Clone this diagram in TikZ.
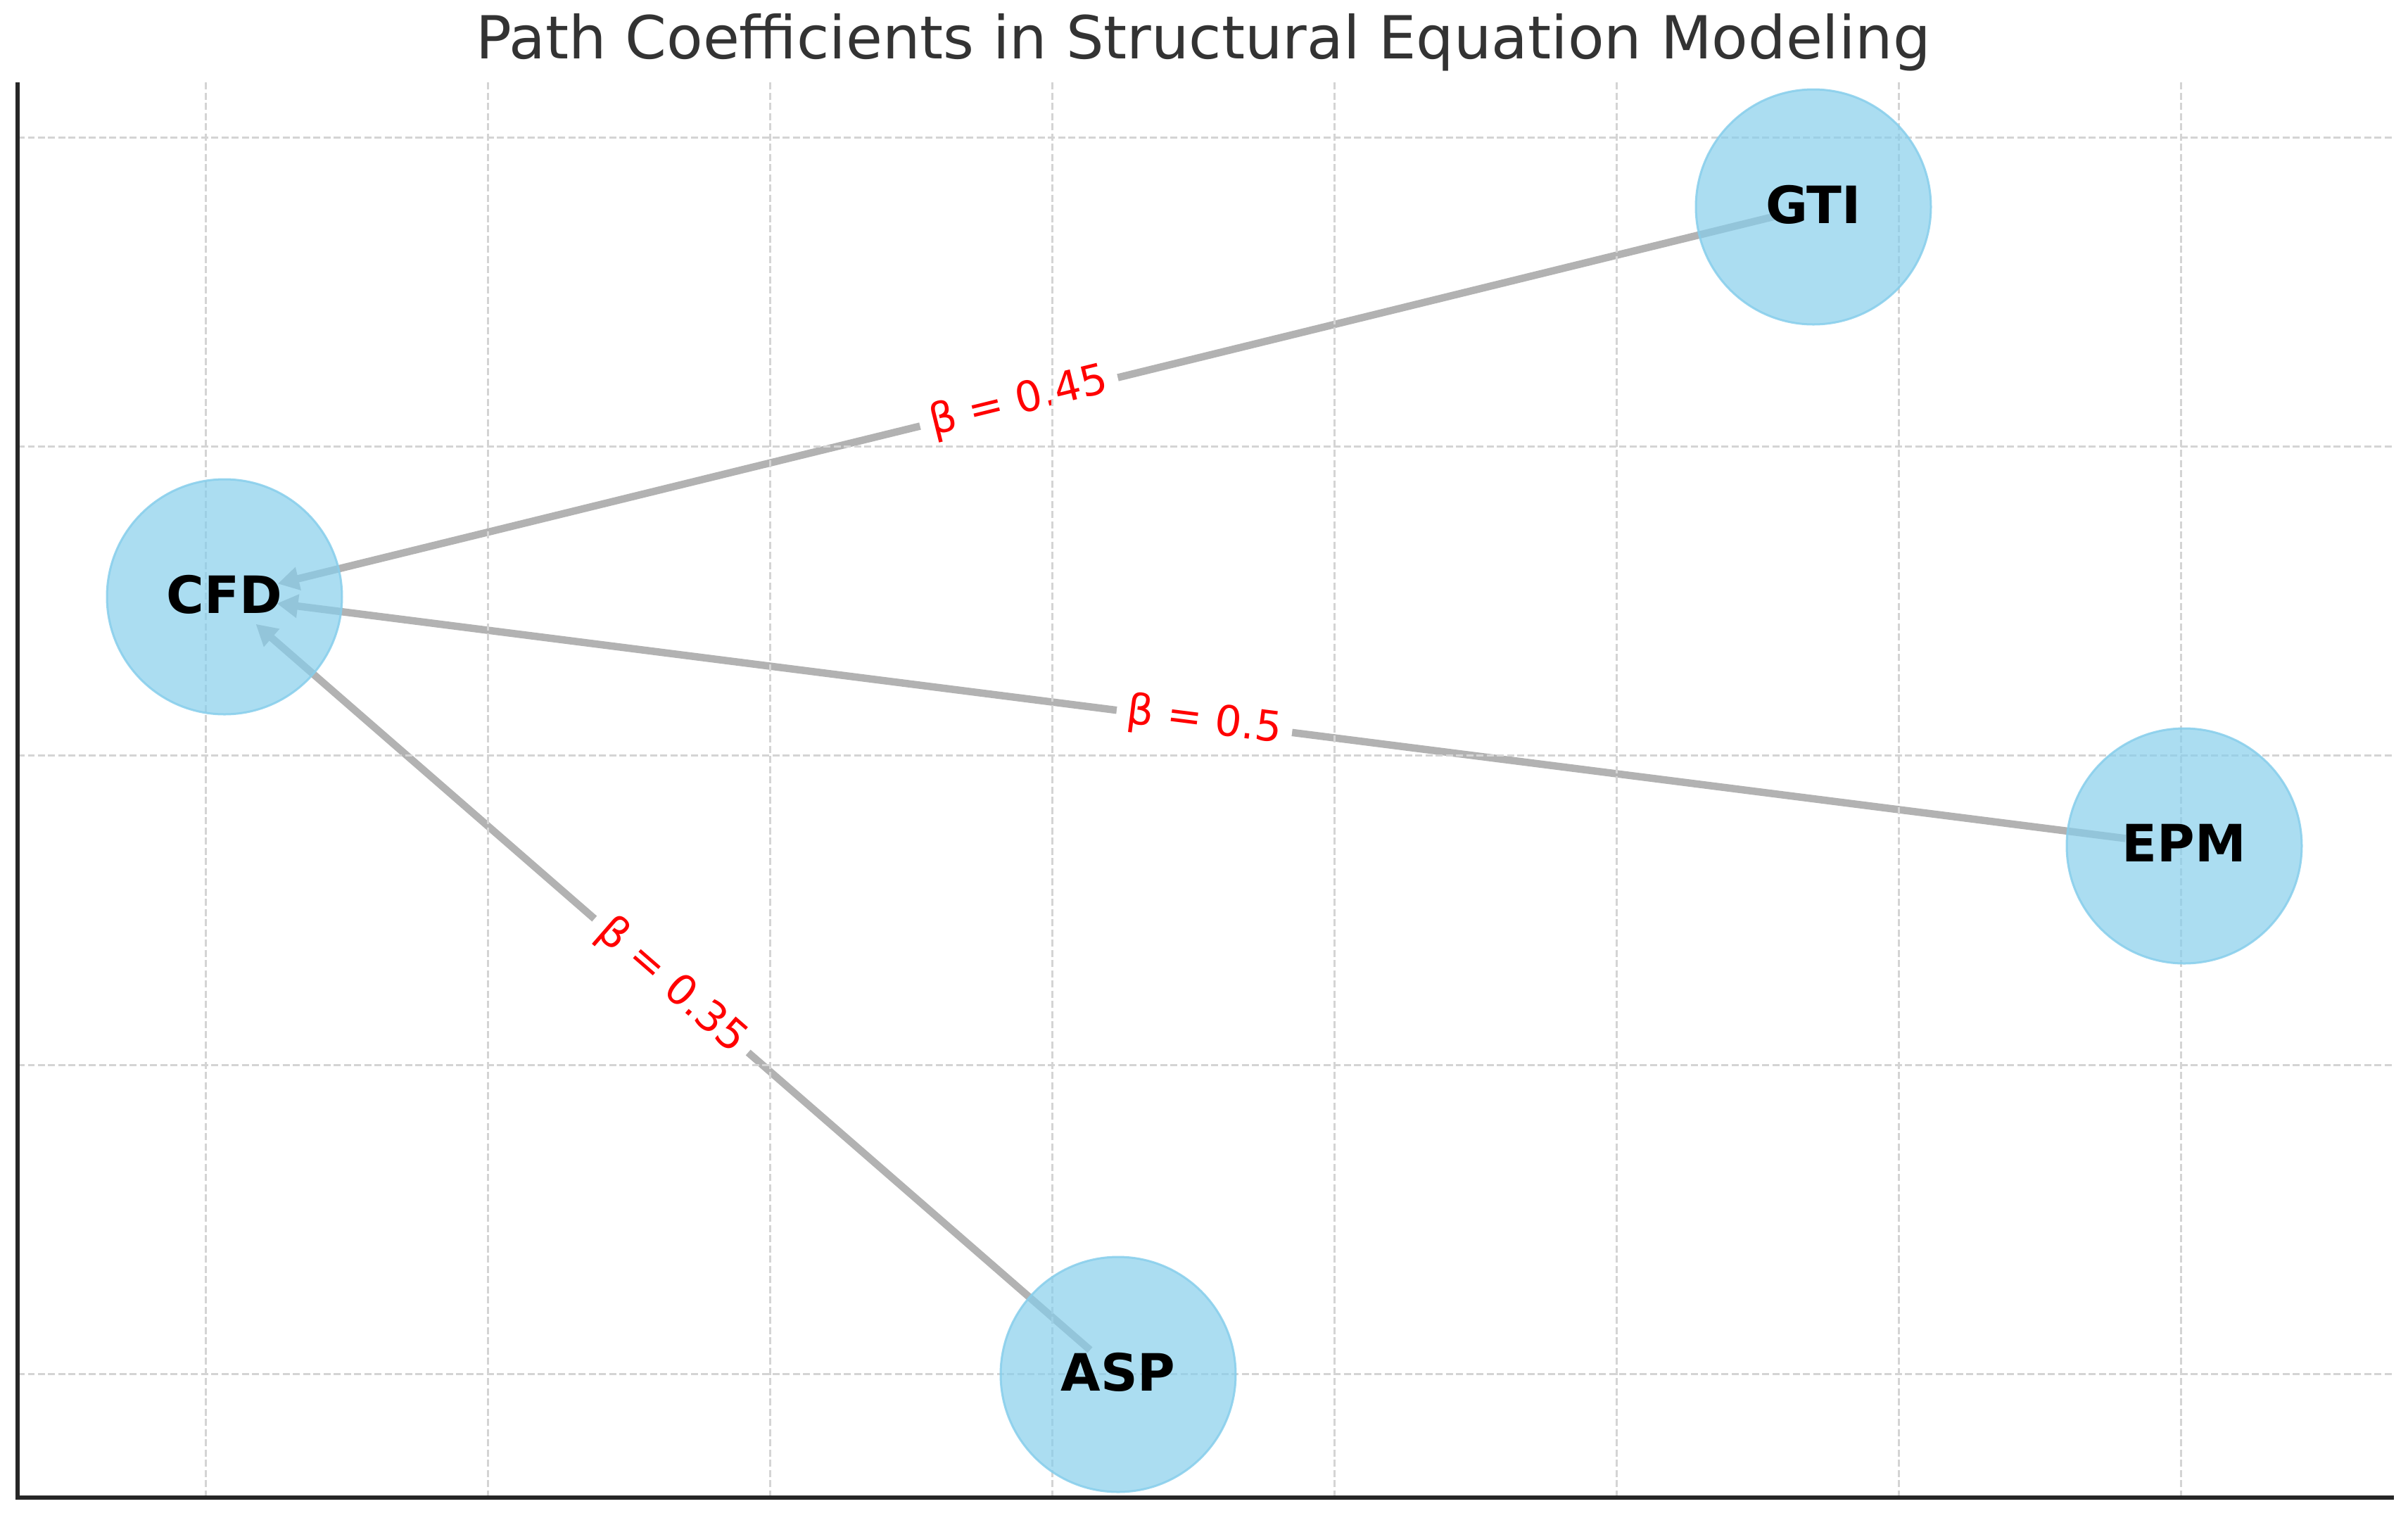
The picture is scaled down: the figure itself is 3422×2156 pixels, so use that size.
\documentclass[tikz,border=0pt]{standalone}
\usepackage{fontspec}
\setmainfont{DejaVu Sans}
\usetikzlibrary{arrows.meta}

\definecolor{skyblue}{RGB}{135,206,235}
\definecolor{spinegray}{RGB}{38,38,38}
\definecolor{titlegray}{RGB}{51,51,51}

\pgfdeclarelayer{edgelayer}
\pgfdeclarelayer{gridlayer}
\pgfsetlayers{edgelayer,gridlayer,main}

\tikzset{
  var/.style={circle, fill=skyblue, fill opacity=0.7, text opacity=1,
    draw=skyblue, draw opacity=0.85, line width=0.3mm,
    minimum size=33.4mm, inner sep=0pt, text depth=0.22em,
    font=\fontsize{20.8}{24}\selectfont\bfseries},
  coefedge/.style={draw=black!30, line width=1.05mm,
    -{Triangle[length=3mm,width=3.2mm]}},
  coef/.style={midway, sloped, fill=white, text=red,
    inner xsep=1.5mm, inner ysep=0.8mm, font=\fontsize{17}{20}\selectfont},
  gridline/.style={draw=black!17, line width=0.3mm, dash pattern=on 1mm off 0.45mm},
  spine/.style={draw=spinegray, line width=0.55mm}
}

\begin{document}
\begin{tikzpicture}[x=0.1mm, y=-0.1mm]
  \useasboundingbox (0,0) rectangle (3422,2156);

  % title
  \node[anchor=base, text=titlegray, font=\fontsize{24}{28}\selectfont] (title)
    at (1710,83) {Path Coefficients in Structural Equation Modeling};

  % latent variables
  \node[var] (cfd) at (319,848)   {CFD};
  \node[var] (gti) at (2577,294)  {GTI};
  \node[var] (epm) at (3104,1202) {EPM};
  \node[var] (asp) at (1589,1953) {ASP};

  % paths into CFD
  \begin{pgfonlayer}{edgelayer}
    \draw[coefedge, shorten <=5.8mm, shorten >=7.8mm] (gti.center) -- node[coef] {β = 0.45} (cfd.center);
    \draw[coefedge, shorten <=8.4mm, shorten >=7.5mm] (epm.center) -- node[coef] {β = 0.5} (cfd.center);
    \draw[coefedge, shorten <=5.3mm, shorten >=5.9mm] (asp.center) -- node[coef] {β = 0.35} (cfd.center);
  \end{pgfonlayer}

  % grid
  \begin{pgfonlayer}{gridlayer}
    \foreach \x in {292,693,...,3099}
      \draw[gridline] (\x,117) -- (\x,2128);
    \foreach \y in {195,634,1073,1513,1952}
      \draw[gridline] (25,\y) -- (3402,\y);
  \end{pgfonlayer}

  % axes
  \draw[spine] (25,117) -- (25,2128) -- (3402,2128);
\end{tikzpicture}
\end{document}
